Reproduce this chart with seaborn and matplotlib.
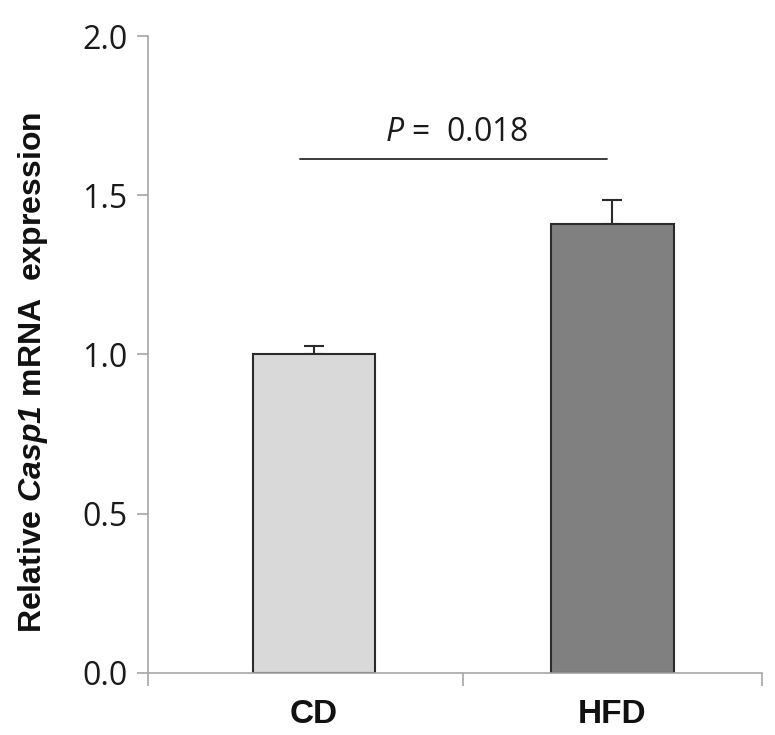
import numpy as np
import matplotlib
matplotlib.use('Agg')
import matplotlib.pyplot as plt
import pandas as pd
import seaborn as sb

groups = ['CD', 'HFD']
expression = [1.0, 1.41]
sem = [0.028, 0.075]
bar_colors = ['#d9d9d9', '#808080']
p_text = '$P$ = 0.018'
p_level = 1.615

sb.set_style('white')
plt.rcParams['font.family'] = ['Open Sans', 'DejaVu Sans']
plt.rcParams['mathtext.fontset'] = 'custom'
plt.rcParams['mathtext.rm'] = 'Open Sans'
plt.rcParams['mathtext.it'] = 'Open Sans:italic'
plt.rcParams['mathtext.bfit'] = 'Liberation Sans:italic:bold'

data = pd.DataFrame({'group': groups, 'expression': expression})

fig = plt.figure(figsize=(7.75, 7.35), dpi=100)
ax = fig.add_axes([0.191, 0.0844, 0.792, 0.8666])

sb.barplot(data=data, x='group', y='expression', hue='group', palette=bar_colors,
           width=0.41, edgecolor='#2b2b2b', linewidth=1.5, errorbar=None,
           legend=False, ax=ax)
for b in ax.patches:
    b.set_zorder(2)

# upper error bars only
ax.errorbar(range(len(groups)), expression, yerr=[[0] * len(sem), sem],
            fmt='none', ecolor='#2b2b2b', elinewidth=1.5, capsize=7,
            capthick=1.5, zorder=1)

ax.set_xlim(-0.555, 1.5)
ax.set_ylim(0, 2.0)
ax.set_yticks([0, 0.5, 1.0, 1.5, 2.0])
ax.set_yticklabels(['0.0', '0.5', '1.0', '1.5', '2.0'], fontsize=23, color='#1a1a1a')
ax.set_xticks([-0.555, 0.5, 1.5])
ax.set_xticklabels(['', '', ''])
ax.set_xticks([0, 1], minor=True)
ax.set_xticklabels(groups, minor=True, fontsize=24, fontweight='bold',
                   family='Liberation Sans', color='#111111')
ax.tick_params(axis='x', which='minor', length=0, pad=19)
ax.tick_params(axis='x', which='major', direction='out', length=9, width=1.2,
               color='#a6a6a6', bottom=True)
ax.tick_params(axis='y', direction='out', length=8, width=1.2, color='#a6a6a6',
               left=True, pad=7)

for s in ['top', 'right']:
    ax.spines[s].set_visible(False)
for s in ['left', 'bottom']:
    ax.spines[s].set_color('#a6a6a6')
    ax.spines[s].set_linewidth(1.2)

ax.set_xlabel('')
ax.set_ylabel('Relative $\\mathbfit{Casp1}$ mRNA  expression', fontsize=23,
              fontweight='bold', family='Liberation Sans', color='#111111')
ax.yaxis.set_label_coords(-0.16, 0.472)

# significance line
ax.plot([-0.047, 0.983], [p_level, p_level], color='#2b2b2b', lw=1.3)
ax.text(0.478, p_level + 0.03, p_text.replace(' = ', ' =  '), ha='center',
        va='bottom', fontsize=23, color='#1a1a1a')

fig.savefig('out.png', dpi=100)
